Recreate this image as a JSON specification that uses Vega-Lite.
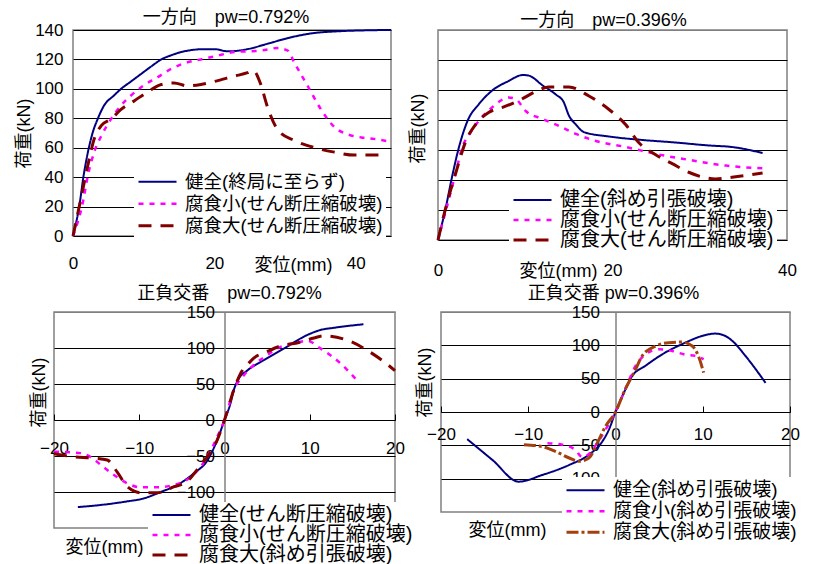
{
"$schema": "https://vega.github.io/schema/vega-lite/v6.json",
"padding": {"left": 14, "top": 8, "right": 0, "bottom": 0},
"background": "white",
"config": {
 "font": "Liberation Sans, Noto Sans CJK JP",
 "view": {"stroke": "#808080", "strokeWidth": 1.5},
 "axis": {"labelFont": "Liberation Sans", "labelFontSize": 17, "labelColor": "black", "titleFont": "Liberation Sans, Noto Sans CJK JP", "titleFontSize": 18, "titleFontWeight": "normal", "titleColor": "black", "gridColor": "black", "gridOpacity": 1, "gridWidth": 1, "ticks": false, "domainColor": "#808080", "labelFlush": false, "labelOverlap": false},
 "legend": {"symbolType": "stroke", "symbolSize": 1444, "labelFont": "Liberation Sans, Noto Sans CJK JP", "labelColor": "black", "fillColor": "white", "padding": 3, "rowPadding": 0, "labelOffset": 7, "labelLimit": 500},
 "title": {"font": "Liberation Sans, Noto Sans CJK JP", "fontSize": 18, "fontWeight": "normal", "color": "black", "frame": "group"},
 "line": {"interpolate": "monotone"}
},
"data": {"values": [
{"p":1,"s":"健全(終局に至らず)","x":0,"y":0},{"p":1,"s":"健全(終局に至らず)","x":0.9,"y":20.6},{"p":1,"s":"健全(終局に至らず)","x":1.5,"y":41},{"p":1,"s":"健全(終局に至らず)","x":2.2,"y":59},{"p":1,"s":"健全(終局に至らず)","x":2.8,"y":70.5},{"p":1,"s":"健全(終局に至らず)","x":3.5,"y":79.6},{"p":1,"s":"健全(終局に至らず)","x":4.4,"y":88.7},{"p":1,"s":"健全(終局に至らず)","x":5.8,"y":95.5},{"p":1,"s":"健全(終局に至らず)","x":6.8,"y":100},{"p":1,"s":"健全(終局に至らず)","x":8.2,"y":105},{"p":1,"s":"健全(終局に至らず)","x":9.6,"y":110},{"p":1,"s":"健全(終局に至らず)","x":11,"y":115},{"p":1,"s":"健全(終局に至らず)","x":12.5,"y":120},{"p":1,"s":"健全(終局に至らず)","x":14,"y":123},{"p":1,"s":"健全(終局に至らず)","x":15.3,"y":125},{"p":1,"s":"健全(終局に至らず)","x":17,"y":126.5},{"p":1,"s":"健全(終局に至らず)","x":18.5,"y":127},{"p":1,"s":"健全(終局に至らず)","x":20,"y":127},{"p":1,"s":"健全(終局に至らず)","x":21.9,"y":125.5},{"p":1,"s":"健全(終局に至らず)","x":23.5,"y":126},{"p":1,"s":"健全(終局に至らず)","x":24.7,"y":127},{"p":1,"s":"健全(終局に至らず)","x":27.5,"y":130.6},{"p":1,"s":"健全(終局に至らず)","x":30.4,"y":134.5},{"p":1,"s":"健全(終局に至らず)","x":34.2,"y":138},{"p":1,"s":"健全(終局に至らず)","x":37,"y":139},{"p":1,"s":"健全(終局に至らず)","x":41.7,"y":139.8},{"p":1,"s":"健全(終局に至らず)","x":45,"y":140},
{"p":1,"s":"腐食小(せん断圧縮破壊)","x":0,"y":0},{"p":1,"s":"腐食小(せん断圧縮破壊)","x":1.4,"y":23},{"p":1,"s":"腐食小(せん断圧縮破壊)","x":2.1,"y":41},{"p":1,"s":"腐食小(せん断圧縮破壊)","x":3,"y":57},{"p":1,"s":"腐食小(せん断圧縮破壊)","x":4,"y":68},{"p":1,"s":"腐食小(せん断圧縮破壊)","x":5.4,"y":79.6},{"p":1,"s":"腐食小(せん断圧縮破壊)","x":6.8,"y":88.7},{"p":1,"s":"腐食小(せん断圧縮破壊)","x":8.2,"y":95.5},{"p":1,"s":"腐食小(せん断圧縮破壊)","x":9.6,"y":101},{"p":1,"s":"腐食小(せん断圧縮破壊)","x":12,"y":108},{"p":1,"s":"腐食小(せん断圧縮破壊)","x":13.9,"y":113.6},{"p":1,"s":"腐食小(せん断圧縮破壊)","x":15.5,"y":117},{"p":1,"s":"腐食小(せん断圧縮破壊)","x":18.1,"y":120},{"p":1,"s":"腐食小(せん断圧縮破壊)","x":20,"y":122},{"p":1,"s":"腐食小(せん断圧縮破壊)","x":22.8,"y":125},{"p":1,"s":"腐食小(せん断圧縮破壊)","x":26.6,"y":126},{"p":1,"s":"腐食小(せん断圧縮破壊)","x":28.9,"y":127.7},{"p":1,"s":"腐食小(せん断圧縮破壊)","x":30.4,"y":126},{"p":1,"s":"腐食小(せん断圧縮破壊)","x":31.3,"y":118},{"p":1,"s":"腐食小(せん断圧縮破壊)","x":33.2,"y":102},{"p":1,"s":"腐食小(せん断圧縮破壊)","x":35.1,"y":86},{"p":1,"s":"腐食小(せん断圧縮破壊)","x":37,"y":74},{"p":1,"s":"腐食小(せん断圧縮破壊)","x":38.9,"y":69},{"p":1,"s":"腐食小(せん断圧縮破壊)","x":40.8,"y":67},{"p":1,"s":"腐食小(せん断圧縮破壊)","x":42.6,"y":66},{"p":1,"s":"腐食小(せん断圧縮破壊)","x":45,"y":64},
{"p":1,"s":"腐食大(せん断圧縮破壊)","x":0,"y":0},{"p":1,"s":"腐食大(せん断圧縮破壊)","x":1.1,"y":25},{"p":1,"s":"腐食大(せん断圧縮破壊)","x":2.1,"y":48},{"p":1,"s":"腐食大(せん断圧縮破壊)","x":3,"y":66},{"p":1,"s":"腐食大(せん断圧縮破壊)","x":4,"y":75},{"p":1,"s":"腐食大(せん断圧縮破壊)","x":5.4,"y":79.6},{"p":1,"s":"腐食大(せん断圧縮破壊)","x":6.8,"y":86},{"p":1,"s":"腐食大(せん断圧縮破壊)","x":8.7,"y":92},{"p":1,"s":"腐食大(せん断圧縮破壊)","x":10.6,"y":98},{"p":1,"s":"腐食大(せん断圧縮破壊)","x":12.5,"y":103},{"p":1,"s":"腐食大(せん断圧縮破壊)","x":14.3,"y":104},{"p":1,"s":"腐食大(せん断圧縮破壊)","x":16.2,"y":102},{"p":1,"s":"腐食大(せん断圧縮破壊)","x":18.1,"y":103},{"p":1,"s":"腐食大(せん断圧縮破壊)","x":20,"y":105},{"p":1,"s":"腐食大(せん断圧縮破壊)","x":22.8,"y":108.6},{"p":1,"s":"腐食大(せん断圧縮破壊)","x":24.7,"y":111},{"p":1,"s":"腐食大(せん断圧縮破壊)","x":25.5,"y":112.5},{"p":1,"s":"腐食大(せん断圧縮破壊)","x":26.5,"y":104},{"p":1,"s":"腐食大(せん断圧縮破壊)","x":27.5,"y":88},{"p":1,"s":"腐食大(せん断圧縮破壊)","x":29,"y":72},{"p":1,"s":"腐食大(せん断圧縮破壊)","x":31.3,"y":65},{"p":1,"s":"腐食大(せん断圧縮破壊)","x":34.2,"y":60},{"p":1,"s":"腐食大(せん断圧縮破壊)","x":37,"y":57},{"p":1,"s":"腐食大(せん断圧縮破壊)","x":39.8,"y":55},{"p":1,"s":"腐食大(せん断圧縮破壊)","x":43.6,"y":55},
{"p":2,"s":"健全(斜め引張破壊)","x":0,"y":0},{"p":2,"s":"健全(斜め引張破壊)","x":0.9,"y":21.8},{"p":2,"s":"健全(斜め引張破壊)","x":1.6,"y":41.8},{"p":2,"s":"健全(斜め引張破壊)","x":2.4,"y":61.8},{"p":2,"s":"健全(斜め引張破壊)","x":3.4,"y":79.6},{"p":2,"s":"健全(斜め引張破壊)","x":4.7,"y":90.7},{"p":2,"s":"健全(斜め引張破壊)","x":6.2,"y":99.6},{"p":2,"s":"健全(斜め引張破壊)","x":8.1,"y":106},{"p":2,"s":"健全(斜め引張破壊)","x":9.7,"y":110},{"p":2,"s":"健全(斜め引張破壊)","x":10.4,"y":109.6},{"p":2,"s":"健全(斜め引張破壊)","x":12,"y":103},{"p":2,"s":"健全(斜め引張破壊)","x":13.5,"y":97},{"p":2,"s":"健全(斜め引張破壊)","x":14.4,"y":92},{"p":2,"s":"健全(斜め引張破壊)","x":15,"y":83},{"p":2,"s":"健全(斜め引張破壊)","x":15.8,"y":77},{"p":2,"s":"健全(斜め引張破壊)","x":16.7,"y":72},{"p":2,"s":"健全(斜め引張破壊)","x":19.6,"y":69},{"p":2,"s":"健全(斜め引張破壊)","x":23.4,"y":66.7},{"p":2,"s":"健全(斜め引張破壊)","x":27.2,"y":65},{"p":2,"s":"健全(斜め引張破壊)","x":31.1,"y":63},{"p":2,"s":"健全(斜め引張破壊)","x":33.7,"y":62},{"p":2,"s":"健全(斜め引張破壊)","x":37.2,"y":58},
{"p":2,"s":"腐食小(せん断圧縮破壊)","x":0,"y":0},{"p":2,"s":"腐食小(せん断圧縮破壊)","x":0.9,"y":19.6},{"p":2,"s":"腐食小(せん断圧縮破壊)","x":2,"y":44},{"p":2,"s":"腐食小(せん断圧縮破壊)","x":2.8,"y":62},{"p":2,"s":"腐食小(せん断圧縮破壊)","x":3.6,"y":70.7},{"p":2,"s":"腐食小(せん断圧縮破壊)","x":4.7,"y":79.6},{"p":2,"s":"腐食小(せん断圧縮破壊)","x":6.2,"y":88.4},{"p":2,"s":"腐食小(せん断圧縮破壊)","x":8.1,"y":95},{"p":2,"s":"腐食小(せん断圧縮破壊)","x":8.9,"y":94},{"p":2,"s":"腐食小(せん断圧縮破壊)","x":10.05,"y":86},{"p":2,"s":"腐食小(せん断圧縮破壊)","x":12,"y":80.7},{"p":2,"s":"腐食小(せん断圧縮破壊)","x":13.9,"y":76},{"p":2,"s":"腐食小(せん断圧縮破壊)","x":15.8,"y":70.7},{"p":2,"s":"腐食小(せん断圧縮破壊)","x":18.1,"y":66},{"p":2,"s":"腐食小(せん断圧縮破壊)","x":21.5,"y":62},{"p":2,"s":"腐食小(せん断圧縮破壊)","x":25.3,"y":57},{"p":2,"s":"腐食小(せん断圧縮破壊)","x":29.2,"y":53},{"p":2,"s":"腐食小(せん断圧縮破壊)","x":33,"y":49.6},{"p":2,"s":"腐食小(せん断圧縮破壊)","x":37.2,"y":47.8},
{"p":2,"s":"腐食大(せん断圧縮破壊)","x":0,"y":0},{"p":2,"s":"腐食大(せん断圧縮破壊)","x":0.9,"y":21.8},{"p":2,"s":"腐食大(せん断圧縮破壊)","x":2,"y":44},{"p":2,"s":"腐食大(せん断圧縮破壊)","x":3.2,"y":66},{"p":2,"s":"腐食大(せん断圧縮破壊)","x":4.3,"y":77},{"p":2,"s":"腐食大(せん断圧縮破壊)","x":5.8,"y":85},{"p":2,"s":"腐食大(せん断圧縮破壊)","x":7.4,"y":88.4},{"p":2,"s":"腐食大(せん断圧縮破壊)","x":9.3,"y":93},{"p":2,"s":"腐食大(せん断圧縮破壊)","x":11.2,"y":99},{"p":2,"s":"腐食大(せん断圧縮破壊)","x":12.7,"y":102},{"p":2,"s":"腐食大(せん断圧縮破壊)","x":15,"y":102},{"p":2,"s":"腐食大(せん断圧縮破壊)","x":17.3,"y":96},{"p":2,"s":"腐食大(せん断圧縮破壊)","x":19.6,"y":87},{"p":2,"s":"腐食大(せん断圧縮破壊)","x":21.5,"y":77},{"p":2,"s":"腐食大(せん断圧縮破壊)","x":23,"y":65},{"p":2,"s":"腐食大(せん断圧縮破壊)","x":24.9,"y":57},{"p":2,"s":"腐食大(せん断圧縮破壊)","x":26.9,"y":50.7},{"p":2,"s":"腐食大(せん断圧縮破壊)","x":28.8,"y":45},{"p":2,"s":"腐食大(せん断圧縮破壊)","x":30.3,"y":42},{"p":2,"s":"腐食大(せん断圧縮破壊)","x":31.8,"y":40.7},{"p":2,"s":"腐食大(せん断圧縮破壊)","x":33.7,"y":41.8},{"p":2,"s":"腐食大(せん断圧縮破壊)","x":37.2,"y":44.7},
{"p":3,"s":"健全(せん断圧縮破壊)","x":-17.2,"y":-121},{"p":3,"s":"健全(せん断圧縮破壊)","x":-14.5,"y":-118},{"p":3,"s":"健全(せん断圧縮破壊)","x":-11.4,"y":-113},{"p":3,"s":"健全(せん断圧縮破壊)","x":-9.5,"y":-109},{"p":3,"s":"健全(せん断圧縮破壊)","x":-7.5,"y":-100},{"p":3,"s":"健全(せん断圧縮破壊)","x":-5.5,"y":-90},{"p":3,"s":"健全(せん断圧縮破壊)","x":-3.6,"y":-74},{"p":3,"s":"健全(せん断圧縮破壊)","x":-2,"y":-56},{"p":3,"s":"健全(せん断圧縮破壊)","x":-0.86,"y":-28},{"p":3,"s":"健全(せん断圧縮破壊)","x":0,"y":0},{"p":3,"s":"健全(せん断圧縮破壊)","x":0.7,"y":23},{"p":3,"s":"健全(せん断圧縮破壊)","x":1.1,"y":42},{"p":3,"s":"健全(せん断圧縮破壊)","x":1.6,"y":56},{"p":3,"s":"健全(せん断圧縮破壊)","x":2.7,"y":69},{"p":3,"s":"健全(せん断圧縮破壊)","x":4.6,"y":83},{"p":3,"s":"健全(せん断圧縮破壊)","x":7,"y":99.5},{"p":3,"s":"健全(せん断圧縮破壊)","x":9.7,"y":118},{"p":3,"s":"健全(せん断圧縮破壊)","x":11.25,"y":125},{"p":3,"s":"健全(せん断圧縮破壊)","x":12.8,"y":128},{"p":3,"s":"健全(せん断圧縮破壊)","x":16.3,"y":133},
{"p":3,"s":"腐食小(せん断圧縮破壊)","x":-20,"y":-44},{"p":3,"s":"腐食小(せん断圧縮破壊)","x":-16.9,"y":-46},{"p":3,"s":"腐食小(せん断圧縮破壊)","x":-15.5,"y":-53},{"p":3,"s":"腐食小(せん断圧縮破壊)","x":-14.5,"y":-62.5},{"p":3,"s":"腐食小(せん断圧縮破壊)","x":-13,"y":-76},{"p":3,"s":"腐食小(せん断圧縮破壊)","x":-11.4,"y":-88},{"p":3,"s":"腐食小(せん断圧縮破壊)","x":-9.8,"y":-93.5},{"p":3,"s":"腐食小(せん断圧縮破壊)","x":-7.9,"y":-93.5},{"p":3,"s":"腐食小(せん断圧縮破壊)","x":-5.9,"y":-90},{"p":3,"s":"腐食小(せん断圧縮破壊)","x":-4.4,"y":-83},{"p":3,"s":"腐食小(せん断圧縮破壊)","x":-2.8,"y":-65},{"p":3,"s":"腐食小(せん断圧縮破壊)","x":-1.6,"y":-42},{"p":3,"s":"腐食小(せん断圧縮破壊)","x":-0.66,"y":-18.5},{"p":3,"s":"腐食小(せん断圧縮破壊)","x":0,"y":0},{"p":3,"s":"腐食小(せん断圧縮破壊)","x":1.1,"y":42},{"p":3,"s":"腐食小(せん断圧縮破壊)","x":2.3,"y":62.5},{"p":3,"s":"腐食小(せん断圧縮破壊)","x":3.4,"y":76},{"p":3,"s":"腐食小(せん断圧縮破壊)","x":5,"y":90},{"p":3,"s":"腐食小(せん断圧縮破壊)","x":6.2,"y":99.5},{"p":3,"s":"腐食小(せん断圧縮破壊)","x":8.1,"y":106.5},{"p":3,"s":"腐食小(せん断圧縮破壊)","x":9.7,"y":110},{"p":3,"s":"腐食小(せん断圧縮破壊)","x":11.25,"y":99.5},{"p":3,"s":"腐食小(せん断圧縮破壊)","x":13.6,"y":78.7},{"p":3,"s":"腐食小(せん断圧縮破壊)","x":15.5,"y":55.6},
{"p":3,"s":"腐食大(斜め引張破壊)","x":-20,"y":-47},{"p":3,"s":"腐食大(斜め引張破壊)","x":-17.7,"y":-51},{"p":3,"s":"腐食大(斜め引張破壊)","x":-15.3,"y":-53},{"p":3,"s":"腐食大(斜め引張破壊)","x":-13.75,"y":-55.6},{"p":3,"s":"腐食大(斜め引張破壊)","x":-12.6,"y":-72},{"p":3,"s":"腐食大(斜め引張破壊)","x":-11.4,"y":-92.6},{"p":3,"s":"腐食大(斜め引張破壊)","x":-9.8,"y":-101},{"p":3,"s":"腐食大(斜め引張破壊)","x":-7.9,"y":-101},{"p":3,"s":"腐食大(斜め引張破壊)","x":-5.9,"y":-92.6},{"p":3,"s":"腐食大(斜め引張破壊)","x":-4.4,"y":-85.6},{"p":3,"s":"腐食大(斜め引張破壊)","x":-3.2,"y":-69},{"p":3,"s":"腐食大(斜め引張破壊)","x":-2,"y":-51},{"p":3,"s":"腐食大(斜め引張破壊)","x":-0.86,"y":-28},{"p":3,"s":"腐食大(斜め引張破壊)","x":0,"y":0},{"p":3,"s":"腐食大(斜め引張破壊)","x":1.1,"y":42},{"p":3,"s":"腐食大(斜め引張破壊)","x":1.9,"y":65},{"p":3,"s":"腐食大(斜め引張破壊)","x":2.85,"y":79},{"p":3,"s":"腐食大(斜め引張破壊)","x":3.4,"y":85.6},{"p":3,"s":"腐食大(斜め引張破壊)","x":5,"y":95},{"p":3,"s":"腐食大(斜め引張破壊)","x":6.6,"y":103},{"p":3,"s":"腐食大(斜め引張破壊)","x":8.5,"y":107},{"p":3,"s":"腐食大(斜め引張破壊)","x":10.5,"y":114},{"p":3,"s":"腐食大(斜め引張破壊)","x":11.6,"y":116.7},{"p":3,"s":"腐食大(斜め引張破壊)","x":14.8,"y":109},{"p":3,"s":"腐食大(斜め引張破壊)","x":16.7,"y":97},{"p":3,"s":"腐食大(斜め引張破壊)","x":18.7,"y":81},{"p":3,"s":"腐食大(斜め引張破壊)","x":20,"y":68.5},
{"p":4,"s":"健全(斜め引張破壊)","x":-17,"y":-40.7},{"p":4,"s":"健全(斜め引張破壊)","x":-14.1,"y":-72},{"p":4,"s":"健全(斜め引張破壊)","x":-11.1,"y":-104.5},{"p":4,"s":"健全(斜め引張破壊)","x":-8.4,"y":-94.5},{"p":4,"s":"健全(斜め引張破壊)","x":-5.3,"y":-79.4},{"p":4,"s":"健全(斜め引張破壊)","x":-3.05,"y":-64},{"p":4,"s":"健全(斜め引張破壊)","x":-1.5,"y":-44},{"p":4,"s":"健全(斜め引張破壊)","x":-0.76,"y":-26.6},{"p":4,"s":"健全(斜め引張破壊)","x":0,"y":0},{"p":4,"s":"健全(斜め引張破壊)","x":0.95,"y":28.6},{"p":4,"s":"健全(斜め引張破壊)","x":1.9,"y":53.8},{"p":4,"s":"健全(斜め引張破壊)","x":3.4,"y":69},{"p":4,"s":"健全(斜め引張破壊)","x":5.3,"y":86},{"p":4,"s":"健全(斜め引張破壊)","x":8,"y":104},{"p":4,"s":"健全(斜め引張破壊)","x":9.9,"y":114},{"p":4,"s":"健全(斜め引張破壊)","x":11.45,"y":117.6},{"p":4,"s":"健全(斜め引張破壊)","x":12.6,"y":114},{"p":4,"s":"健全(斜め引張破壊)","x":13.4,"y":106.5},{"p":4,"s":"健全(斜め引張破壊)","x":14.9,"y":84},{"p":4,"s":"健全(斜め引張破壊)","x":17.2,"y":43.7},
{"p":4,"s":"腐食小(斜め引張破壊)","x":-7.8,"y":-46.7},{"p":4,"s":"腐食小(斜め引張破壊)","x":-6.1,"y":-49},{"p":4,"s":"腐食小(斜め引張破壊)","x":-4.6,"y":-57},{"p":4,"s":"腐食小(斜め引張破壊)","x":-3.8,"y":-68},{"p":4,"s":"腐食小(斜め引張破壊)","x":-3.05,"y":-63},{"p":4,"s":"腐食小(斜め引張破壊)","x":-2.1,"y":-46.7},{"p":4,"s":"腐食小(斜め引張破壊)","x":-1.15,"y":-26.6},{"p":4,"s":"腐食小(斜め引張破壊)","x":0,"y":0},{"p":4,"s":"腐食小(斜め引張破壊)","x":1.1,"y":33.7},{"p":4,"s":"腐食小(斜め引張破壊)","x":2.3,"y":69},{"p":4,"s":"腐食小(斜め引張破壊)","x":3.4,"y":86},{"p":4,"s":"腐食小(斜め引張破壊)","x":5,"y":94},{"p":4,"s":"腐食小(斜め引張破壊)","x":6.5,"y":91.5},{"p":4,"s":"腐食小(斜め引張破壊)","x":8,"y":86},{"p":4,"s":"腐食小(斜め引張破壊)","x":9.2,"y":84},{"p":4,"s":"腐食小(斜め引張破壊)","x":10.1,"y":79},
{"p":4,"s":"腐食大(斜め引張破壊)","x":-10.5,"y":-49},{"p":4,"s":"腐食大(斜め引張破壊)","x":-8.4,"y":-52},{"p":4,"s":"腐食大(斜め引張破壊)","x":-6.9,"y":-59},{"p":4,"s":"腐食大(斜め引張破壊)","x":-5.3,"y":-69},{"p":4,"s":"腐食大(斜め引張破壊)","x":-4.2,"y":-74},{"p":4,"s":"腐食大(斜め引張破壊)","x":-3.05,"y":-69},{"p":4,"s":"腐食大(斜め引張破壊)","x":-2.1,"y":-46.7},{"p":4,"s":"腐食大(斜め引張破壊)","x":-1.15,"y":-21.6},{"p":4,"s":"腐食大(斜め引張破壊)","x":0,"y":0},{"p":4,"s":"腐食大(斜め引張破壊)","x":1.1,"y":33.7},{"p":4,"s":"腐食大(斜め引張破壊)","x":2.3,"y":64},{"p":4,"s":"腐食大(斜め引張破壊)","x":3.05,"y":84},{"p":4,"s":"腐食大(斜め引張破壊)","x":4.6,"y":99},{"p":4,"s":"腐食大(斜め引張破壊)","x":6.1,"y":104},{"p":4,"s":"腐食大(斜め引張破壊)","x":7.6,"y":105},{"p":4,"s":"腐食大(斜め引張破壊)","x":8.8,"y":99},{"p":4,"s":"腐食大(斜め引張破壊)","x":9.5,"y":84},{"p":4,"s":"腐食大(斜め引張破壊)","x":10.1,"y":59}
]},
"bounds": "full",
"spacing": 3,
"resolve": {"scale": {"x": "independent", "y": "independent", "color": "independent", "strokeDash": "independent", "strokeWidth": "independent"}},
"vconcat": [
 {"hconcat": [
   {"width": 1, "height": 1, "data": {"values": []}, "mark": "point", "encoding": {}, "view": {"stroke": null}},
   {"hconcat": [
     {"width": 318, "height": 206,
      "title": {"text": "一方向　pw=0.792%", "offset": -6, "dx": -6},
      "transform": [{"filter": "datum.p === 1"}],
      "mark": {"type": "line", "interpolate": "monotone"},
      "encoding": {
       "x": {"field": "x", "type": "quantitative", "scale": {"domain": [0, 45], "nice": false, "zero": false}, "axis": {"values": [0, 20, 40], "grid": false, "domain": false, "labelPadding": 19, "title": "変位(mm)", "titleX": 220, "titleY": 29, "titleBaseline": "middle", "titleAlign": "center"}},
       "y": {"field": "y", "type": "quantitative", "scale": {"domain": [0, 140], "nice": false}, "axis": {"values": [0, 20, 40, 60, 80, 100, 120, 140], "grid": true, "domain": false, "labelPadding": 10, "title": "荷重(kN)", "titleX": -40, "titleY": 103, "titleAlign": "center", "titleBaseline": "bottom"}},
       "color": {"field": "s", "type": "nominal", "scale": {"domain": ["健全(終局に至らず)", "腐食小(せん断圧縮破壊)", "腐食大(せん断圧縮破壊)"], "range": ["#000080", "#ff00ff", "#800000"]}, "legend": {"title": null, "orient": "none", "legendX": 61, "legendY": 138, "labelFontSize": 18.5, "clipHeight": 21.5}},
       "strokeDash": {"field": "s", "type": "nominal", "scale": {"domain": ["健全(終局に至らず)", "腐食小(せん断圧縮破壊)", "腐食大(せん断圧縮破壊)"], "range": [[1, 0], [5, 6], [13, 9]]}},
       "strokeWidth": {"field": "s", "type": "nominal", "scale": {"domain": ["健全(終局に至らず)", "腐食小(せん断圧縮破壊)", "腐食大(せん断圧縮破壊)"], "range": [2, 3, 3]}}
      }},
     {"width": 349, "height": 210,
      "title": {"text": "一方向　pw=0.396%", "offset": 0, "dx": -9},
      "transform": [{"filter": "datum.p === 2"}],
      "mark": {"type": "line", "interpolate": "monotone"},
      "encoding": {
       "x": {"field": "x", "type": "quantitative", "scale": {"domain": [0, 40], "nice": false, "zero": false}, "axis": {"values": [0, 20, 40], "grid": false, "domain": false, "labelPadding": 22, "title": "変位(mm)", "titleX": 120, "titleY": 31, "titleBaseline": "middle", "titleAlign": "center"}},
       "y": {"field": "y", "type": "quantitative", "scale": {"domain": [0, 140], "nice": false}, "axis": {"values": [0, 20, 40, 60, 80, 100, 120, 140], "grid": true, "domain": false, "labels": false, "title": "荷重(kN)", "titleX": -11, "titleY": 98, "titleAlign": "center", "titleBaseline": "bottom", "gridColor": {"condition": {"test": "datum.value === 140", "value": "#808080"}, "value": "black"}}},
       "color": {"field": "s", "type": "nominal", "scale": {"domain": ["健全(斜め引張破壊)", "腐食小(せん断圧縮破壊)", "腐食大(せん断圧縮破壊)"], "range": ["#000080", "#ff00ff", "#800000"]}, "legend": {"title": null, "orient": "none", "legendX": 71, "legendY": 157, "labelFontSize": 20, "clipHeight": 20}},
       "strokeDash": {"field": "s", "type": "nominal", "scale": {"domain": ["健全(斜め引張破壊)", "腐食小(せん断圧縮破壊)", "腐食大(せん断圧縮破壊)"], "range": [[1, 0], [5, 6], [13, 9]]}},
       "strokeWidth": {"field": "s", "type": "nominal", "scale": {"domain": ["健全(斜め引張破壊)", "腐食小(せん断圧縮破壊)", "腐食大(せん断圧縮破壊)"], "range": [2, 3, 3]}}
      }}
   ], "spacing": 47, "bounds": "flush",
   "resolve": {"scale": {"x": "independent", "y": "independent", "color": "independent", "strokeDash": "independent", "strokeWidth": "independent"}}}
 ], "spacing": 18, "bounds": "flush",
 "resolve": {"scale": {"x": "independent", "y": "independent", "color": "independent", "strokeDash": "independent", "strokeWidth": "independent"}}},
 {"hconcat": [
   {"width": 341, "height": 216,
    "title": {"text": "正負交番　pw=0.792%", "offset": 0, "dx": 5},
    "transform": [{"filter": "datum.p === 3"}],
    "mark": {"type": "line", "interpolate": "monotone"},
    "encoding": {
     "x": {"field": "x", "type": "quantitative", "scale": {"domain": [-20, 20], "nice": false, "zero": false}, "axis": {"values": [-20, -10, 0, 10, 20], "grid": false, "offset": -108, "domain": true, "domainColor": "black", "ticks": true, "tickSize": -6, "tickColor": "black", "labelPadding": 26, "title": "変位(mm)", "titleX": 50, "titleY": 127, "titleBaseline": "middle", "titleAlign": "center"}},
     "y": {"field": "y", "type": "quantitative", "scale": {"domain": [-150, 150], "nice": false}, "axis": {"values": [-100, -50, 0, 50, 100, 150], "grid": true, "offset": -170.5, "domain": true, "domainWidth": 1.5, "labelPadding": 10, "title": "荷重(kN)", "titleX": -176.5, "titleY": 80, "titleAlign": "center", "titleBaseline": "bottom", "gridColor": {"condition": {"test": "datum.value === 150", "value": "#808080"}, "value": "black"}}},
     "color": {"field": "s", "type": "nominal", "scale": {"domain": ["健全(せん断圧縮破壊)", "腐食小(せん断圧縮破壊)", "腐食大(斜め引張破壊)"], "range": ["#000080", "#ff00ff", "#800000"]}, "legend": {"title": null, "orient": "none", "legendX": 94, "legendY": 190, "labelFontSize": 20, "clipHeight": 20}},
     "strokeDash": {"field": "s", "type": "nominal", "scale": {"domain": ["健全(せん断圧縮破壊)", "腐食小(せん断圧縮破壊)", "腐食大(斜め引張破壊)"], "range": [[1, 0], [5, 6], [13, 9]]}},
     "strokeWidth": {"field": "s", "type": "nominal", "scale": {"domain": ["健全(せん断圧縮破壊)", "腐食小(せん断圧縮破壊)", "腐食大(斜め引張破壊)"], "range": [2, 3, 3]}}
    }},
   {"width": 349, "height": 200,
    "title": {"text": "正負交番 pw=0.396%", "offset": 0, "dx": -2},
    "transform": [{"filter": "datum.p === 4"}],
    "mark": {"type": "line", "interpolate": "monotone"},
    "encoding": {
     "x": {"field": "x", "type": "quantitative", "scale": {"domain": [-20, 20], "nice": false, "zero": false}, "axis": {"values": [-20, -10, 0, 10, 20], "grid": false, "offset": -100, "domain": true, "domainColor": "black", "ticks": true, "tickSize": -6, "tickColor": "black", "labelPadding": 20, "title": "変位(mm)", "titleX": 66, "titleY": 118, "titleBaseline": "middle", "titleAlign": "center"}},
     "y": {"field": "y", "type": "quantitative", "scale": {"domain": [-150, 150], "nice": false}, "axis": {"values": [-100, -50, 0, 50, 100, 150], "grid": true, "offset": -174.5, "domain": true, "domainWidth": 1.5, "labelPadding": 16, "title": "荷重(kN)", "titleX": -181.5, "titleY": 70, "titleAlign": "center", "titleBaseline": "bottom", "gridColor": {"condition": {"test": "datum.value === 150", "value": "#808080"}, "value": "black"}}},
     "color": {"field": "s", "type": "nominal", "scale": {"domain": ["健全(斜め引張破壊)", "腐食小(斜め引張破壊)", "腐食大(斜め引張破壊)"], "range": ["#000080", "#ff00ff", "#a3410e"]}, "legend": {"title": null, "orient": "none", "legendX": 121, "legendY": 165, "labelFontSize": 19, "clipHeight": 20.5}},
     "strokeDash": {"field": "s", "type": "nominal", "scale": {"domain": ["健全(斜め引張破壊)", "腐食小(斜め引張破壊)", "腐食大(斜め引張破壊)"], "range": [[1, 0], [5, 6], [12, 3, 3, 3]]}},
     "strokeWidth": {"field": "s", "type": "nominal", "scale": {"domain": ["健全(斜め引張破壊)", "腐食小(斜め引張破壊)", "腐食大(斜め引張破壊)"], "range": [2, 3, 3]}}
    }}
 ], "spacing": 46, "bounds": "flush",
 "resolve": {"scale": {"x": "independent", "y": "independent", "color": "independent", "strokeDash": "independent", "strokeWidth": "independent"}}}
]
}
